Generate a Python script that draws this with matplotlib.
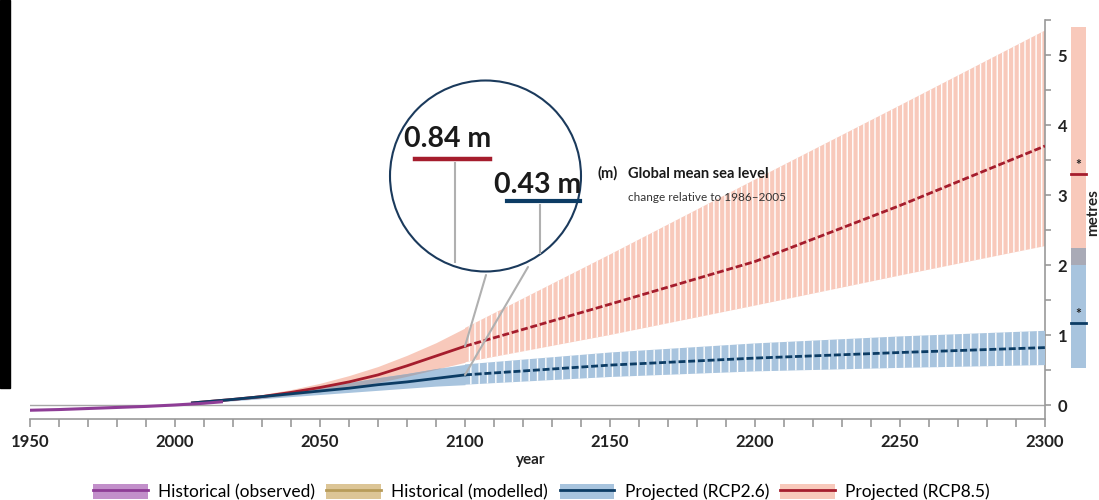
import matplotlib.pyplot as plt
from matplotlib.patches import Patch, Rectangle, Ellipse
from matplotlib.lines import Line2D
from matplotlib.ticker import MultipleLocator

plt.rcParams['font.family'] = ['Lato', 'DejaVu Sans']
plt.rcParams['hatch.linewidth'] = 1.0
plt.rcParams['hatch.color'] = 'white'

# observed history (m, relative to 1986-2005)
obs_years = [1950, 1960, 1970, 1980, 1990, 2000, 2010, 2016]
obs_gmsl = [-0.075, -0.065, -0.05, -0.035, -0.02, 0.0, 0.025, 0.045]

# projections up to 2100
near_years = [2006, 2020, 2030, 2040, 2050, 2060, 2070, 2080, 2090, 2100]
rcp85_mid = [0.03, 0.08, 0.12, 0.18, 0.25, 0.33, 0.43, 0.56, 0.70, 0.84]
rcp85_hi = [0.04, 0.10, 0.15, 0.22, 0.31, 0.42, 0.55, 0.71, 0.89, 1.10]
rcp85_lo = [0.02, 0.07, 0.10, 0.14, 0.19, 0.25, 0.32, 0.41, 0.51, 0.61]
rcp26_mid = [0.03, 0.08, 0.12, 0.16, 0.20, 0.24, 0.29, 0.33, 0.38, 0.43]
rcp26_hi = [0.04, 0.10, 0.14, 0.20, 0.26, 0.32, 0.39, 0.45, 0.52, 0.58]
rcp26_lo = [0.02, 0.06, 0.09, 0.12, 0.15, 0.18, 0.21, 0.24, 0.27, 0.29]

# extended projections 2100-2300
far_years = [2100, 2150, 2200, 2250, 2300]
rcp85_far_mid = [0.84, 1.44, 2.05, 2.85, 3.70]
rcp85_far_hi = [1.10, 2.15, 3.22, 4.28, 5.35]
rcp85_far_lo = [0.61, 1.00, 1.42, 1.85, 2.27]
rcp26_far_mid = [0.43, 0.57, 0.67, 0.75, 0.82]
rcp26_far_hi = [0.58, 0.75, 0.88, 0.98, 1.06]
rcp26_far_lo = [0.29, 0.40, 0.48, 0.53, 0.57]

# side bar (2300 ranges)
side_rcp85 = (2.0, 5.4)
side_rcp26 = (0.53, 2.25)
side_mid85 = 3.3
side_mid26 = 1.17

red_band = '#f8c9bb'
red_line = '#a51d2d'
blue_band = '#a8c4de'
blue_line = '#0c3c64'
grey_band = '#a9aab6'
purple = '#8e3d96'


def px(x, y):
    return x / 1099, 1 - y / 500


fig = plt.figure(figsize=(10.99, 5), dpi=100)
ax = fig.add_axes([30 / 1099, 0.162, (1045 - 30) / 1099, 0.798])

# bands
ax.fill_between(near_years, rcp85_lo, rcp85_hi, color=red_band, lw=0, zorder=2)
ax.fill_between(far_years, rcp85_far_lo, rcp85_far_hi, facecolor=red_band,
                edgecolor='white', hatch='|||', lw=0, zorder=2)
ax.fill_between(near_years, rcp26_lo, rcp26_hi, color=blue_band, lw=0, zorder=3)
ax.fill_between(far_years, rcp26_far_lo, rcp26_far_hi, facecolor=blue_band,
                edgecolor='white', hatch='||', lw=0, zorder=3)
ov_lo = [max(a, b) for a, b in zip(rcp85_lo, rcp26_lo)]
ov_hi = [min(a, b) for a, b in zip(rcp85_hi, rcp26_hi)]
ax.fill_between(near_years, ov_lo, ov_hi, where=[h > l for h, l in zip(ov_hi, ov_lo)],
                color=grey_band, lw=0, zorder=3, interpolate=True)

# medians
ax.plot(near_years, rcp85_mid, color=red_line, lw=2, zorder=5)
ax.plot(far_years, rcp85_far_mid, color=red_line, lw=2, ls=(0, (2.5, 1)), zorder=5)
ax.plot(near_years, rcp26_mid, color=blue_line, lw=2, zorder=5)
ax.plot(far_years, rcp26_far_mid, color=blue_line, lw=2, ls=(0, (2.5, 1)), zorder=5)
ax.plot(obs_years, obs_gmsl, color=purple, lw=2.2, zorder=6)

ax.axhline(0, color='#a6a6a6', lw=1, zorder=1)

# side bar
bx, bw = 2311.5, 5.2
ax.bar(bx, side_rcp85[1] - side_rcp85[0], bottom=side_rcp85[0], width=bw,
       color=red_band, clip_on=False)
ax.bar(bx, side_rcp26[1] - side_rcp26[0], bottom=side_rcp26[0], width=bw,
       color=blue_band, clip_on=False)
ax.bar(bx, side_rcp26[1] - side_rcp85[0], bottom=side_rcp85[0], width=bw,
       color=grey_band, clip_on=False)
for m, c in [(side_mid85, red_line), (side_mid26, blue_line)]:
    ax.plot([bx - bw / 2, bx + bw / 2], [m, m], color=c, lw=2, clip_on=False)
    ax.text(bx, m + 0.05, '*', ha='center', va='bottom', fontsize=10,
            fontweight='bold', color='#222222', clip_on=False)
ax.text(2316.6, 2.75, 'metres', rotation=90, ha='center', va='center',
        fontsize=11, fontweight='bold', color='#222222')

# axes styling
ax.set_xlim(1950, 2300)
ax.set_ylim(-0.2, 5.5)
for s in ['left', 'top']:
    ax.spines[s].set_visible(False)
for s in ['right', 'bottom']:
    ax.spines[s].set_color('#999999')
    ax.spines[s].set_linewidth(1.2)
ax.yaxis.tick_right()
ax.xaxis.set_major_locator(MultipleLocator(50))
ax.xaxis.set_minor_locator(MultipleLocator(10))
ax.yaxis.set_major_locator(MultipleLocator(1))
ax.yaxis.set_minor_locator(MultipleLocator(0.5))
ax.tick_params(which='both', colors='#999999', length=6, width=1.2)
ax.tick_params(axis='y', which='both', length=4)
ax.tick_params(axis='x', labelsize=12, labelcolor='#222222', pad=5)
ax.tick_params(axis='y', labelsize=12, labelcolor='#222222', pad=5)
for lab in ax.get_xticklabels() + ax.get_yticklabels():
    lab.set_fontweight('bold')
ax.yaxis.set_major_formatter(lambda v, p: f'{v:.0f}')
fig.text(*px(531, 460), 'year', ha='center', va='center', fontsize=11,
         fontweight='bold', color='#222222')

# magnifier call-out
fig.add_artist(Ellipse(px(485.5, 176), 191 / 1099, 191 / 500, transform=fig.transFigure,
                       fill=False, edgecolor='#1b3a5c', lw=1.5))
fig.text(*px(404, 147), '0.84 m', fontsize=20.5, fontweight='bold', color='#1a1a1a',
         va='baseline')
fig.text(*px(494, 193), '0.43 m', fontsize=20.5, fontweight='bold', color='#1a1a1a',
         va='baseline')
for (x0, y0), (x1, y1), c, w in [
        ((415, 159), (490, 159), red_line, 3.2),
        ((507, 201), (580, 201), blue_line, 3.0),
        ((455, 163), (455, 262), '#b0b0b0', 1.5),
        ((540, 205), (540, 253), '#b0b0b0', 1.5)]:
    a, b = px(x0, y0)
    c2, d = px(x1, y1)
    fig.add_artist(Line2D([a, c2], [b, d], transform=fig.transFigure, color=c, lw=w))
ax.annotate('', xy=(2100, rcp85_mid[-1]), xytext=px(486, 275), textcoords='figure fraction',
            arrowprops=dict(arrowstyle='-', color='#b0b0b0', lw=1.5, shrinkA=0, shrinkB=0),
            zorder=7)
ax.annotate('', xy=(2100, rcp26_mid[-1]), xytext=px(528, 267), textcoords='figure fraction',
            arrowprops=dict(arrowstyle='-', color='#b0b0b0', lw=1.5, shrinkA=0, shrinkB=0),
            zorder=7)

fig.text(*px(597, 178), '(m)', fontsize=10.5, fontweight='bold', color='#1a1a1a',
         va='baseline')
fig.text(*px(628, 178), 'Global mean sea level', fontsize=10.5, fontweight='bold',
         color='#1a1a1a', va='baseline')
fig.text(*px(628, 201), 'change relative to 1986–2005', fontsize=8.5, color='#333333',
         va='baseline')

# legend
handles = [
    (Patch(facecolor='#c28fca', edgecolor='none'), Line2D([], [], color=purple, lw=2)),
    (Patch(facecolor='#dcc596', edgecolor='none'), Line2D([], [], color='#b89c5a', lw=2)),
    (Patch(facecolor=blue_band, edgecolor='none'), Line2D([], [], color=blue_line, lw=2)),
    (Patch(facecolor=red_band, edgecolor='none'), Line2D([], [], color=red_line, lw=2)),
]
labels = ['Historical (observed)', 'Historical (modelled)', 'Projected (RCP2.6)',
          'Projected (RCP8.5)']
fig.legend(handles, labels, loc='lower left', bbox_to_anchor=(93 / 1099, 0.0), ncol=4,
           frameon=False, fontsize=12.5, handlelength=3.15, handleheight=0.95,
           handletextpad=0.6, columnspacing=0.65, borderpad=0, borderaxespad=0)

# dark strip on the left edge of the reference image
fig.add_artist(Rectangle((0, 1 - 388 / 500), 10 / 1099, 388 / 500,
                         transform=fig.transFigure, color='black'))

fig.savefig('out.png', dpi=100)
